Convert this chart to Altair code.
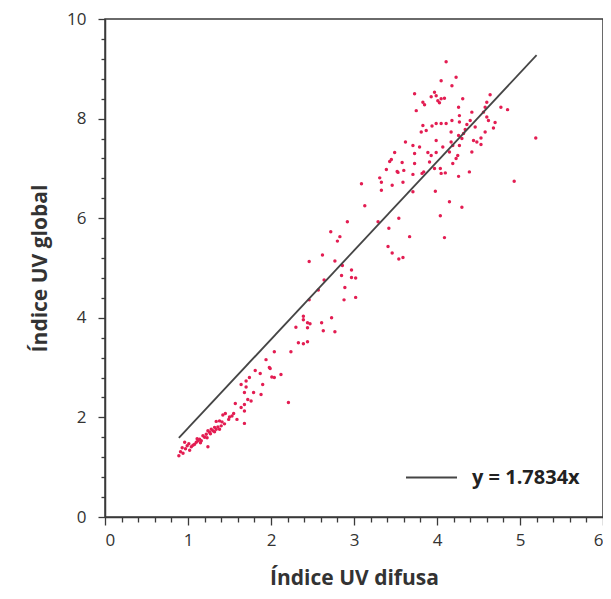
import altair as alt
import pandas as pd

# Scatter data: (Índice UV difusa, Índice UV global)
pts_x = [
    0.89, 0.94, 0.93, 0.96, 0.99, 1.02, 1.04, 1.08, 1.10, 1.12, 1.14, 1.18, 1.16, 1.22, 1.24, 1.26,
    1.28, 1.30, 1.32, 1.34, 1.36, 1.38, 1.34, 1.38, 1.24, 1.42, 1.45, 1.49, 1.53, 1.55, 1.57, 1.59,
    1.68, 1.68, 1.64, 1.68, 1.72, 1.64, 1.70, 1.68, 1.70, 1.74, 1.79, 1.81, 1.87, 1.90, 1.88, 1.99,
    2.01, 1.76, 0.97, 1.06, 1.11, 1.20, 1.27, 1.32, 1.40, 1.44, 1.01, 0.91, 1.15, 1.23, 1.41, 1.50,
    2.04, 2.24, 1.94, 1.98, 2.12, 2.04, 2.21,
    3.31, 3.33, 3.46, 3.33, 3.09, 3.53, 3.59, 3.13, 2.92, 3.29, 3.54, 3.42, 2.72, 2.83, 2.80, 3.41,
    3.46, 3.54, 3.59, 2.46, 2.62, 2.77, 2.86, 2.97, 2.85, 2.97, 3.02, 2.64, 2.89, 2.57, 2.46, 2.88,
    3.02, 2.39, 2.39, 2.44, 2.47, 2.44, 2.30, 2.61, 2.73, 2.63, 2.77, 2.33, 2.39, 2.44,
    3.67, 3.71, 3.98, 4.04, 4.09, 3.39, 3.43, 3.45, 3.49, 3.52, 3.58, 3.60, 3.62, 3.71, 3.73, 3.73,
    3.71, 3.79, 3.82, 3.84, 3.89, 3.93, 3.99, 3.99, 3.91, 3.97, 4.04, 4.05, 4.07, 3.83, 3.81, 3.87,
    3.94, 3.99, 4.05,
    4.11, 4.05, 4.23, 4.18, 3.73, 3.93, 3.97, 3.99, 4.01, 4.05, 4.09, 4.03, 3.83, 3.85, 3.75, 4.31,
    4.26, 4.64, 4.60, 4.58, 4.56, 4.77, 4.85, 4.60, 4.62, 4.70, 4.68, 4.58, 4.27, 4.27, 4.18, 4.42,
    4.40, 4.36, 4.34, 4.46, 4.44, 4.48, 4.53, 4.53, 4.17, 4.26, 4.30, 4.32, 4.11, 4.17, 4.19, 4.27,
    4.42, 4.25, 4.23, 4.19, 4.15, 4.10, 4.26, 4.39, 4.15, 4.30, 4.93, 5.19,
]
pts_y = [
    1.23, 1.28, 1.39, 1.50, 1.43, 1.34, 1.41, 1.46, 1.50, 1.53, 1.56, 1.63, 1.53, 1.66, 1.73, 1.70,
    1.76, 1.73, 1.80, 1.76, 1.81, 1.76, 1.92, 1.93, 1.41, 2.05, 2.08, 1.96, 2.03, 2.08, 2.28, 1.96,
    2.13, 1.88, 2.20, 2.26, 2.36, 2.66, 2.73, 2.50, 2.61, 2.80, 2.50, 2.94, 2.88, 2.66, 2.46, 2.98,
    2.81, 2.33, 1.37, 1.44, 1.57, 1.60, 1.67, 1.71, 1.83, 1.87, 1.47, 1.31, 1.49, 1.59, 1.91, 2.01,
    3.32, 3.32, 3.16, 3.00, 2.86, 2.80, 2.30,
    6.81, 6.72, 6.66, 6.56, 6.69, 6.92, 6.72, 6.25, 5.93, 5.93, 6.00, 5.80, 5.73, 5.63, 5.54, 5.43,
    5.30, 5.18, 5.21, 5.13, 5.26, 5.14, 5.05, 4.96, 4.85, 4.81, 4.80, 4.76, 4.61, 4.56, 4.36, 4.36,
    4.41, 4.03, 3.96, 3.90, 3.88, 3.80, 3.81, 3.90, 4.00, 3.74, 3.72, 3.50, 3.48, 3.52,
    5.63, 6.53, 6.54, 6.05, 5.61, 6.98, 7.14, 7.18, 7.32, 6.94, 7.12, 6.96, 7.53, 7.46, 7.30, 7.10,
    6.88, 7.43, 6.90, 6.93, 7.32, 7.26, 7.32, 7.56, 7.13, 7.00, 7.00, 6.90, 7.43, 7.86, 7.73, 7.76,
    7.85, 7.90, 7.90,
    9.14, 8.76, 8.83, 8.66, 8.50, 8.44, 8.53, 8.46, 8.36, 8.40, 8.41, 8.32, 8.33, 8.28, 8.16, 8.40,
    8.23, 8.48, 8.33, 8.23, 8.13, 8.23, 8.18, 8.03, 7.96, 7.92, 7.81, 7.73, 8.06, 7.93, 7.96, 8.13,
    7.96, 7.88, 7.78, 7.83, 7.56, 7.53, 7.48, 7.61, 7.73, 7.66, 7.60, 7.70, 7.90, 7.53, 7.46, 7.46,
    7.33, 7.26, 7.20, 7.10, 7.33, 6.91, 6.84, 6.93, 6.33, 6.22, 6.74, 7.61,
]

# Trend line y = 1.7834x
slope = 1.7834
line_x = [0.89, 5.2]
series_label = "y = 1.7834x"

x_major = [0, 1, 2, 3, 4, 5, 6]
y_major = [0, 2, 4, 6, 8, 10]
x_minor = [round(i * 0.2, 1) for i in range(31) if i % 5 != 0]
y_minor = [round(i * 0.4, 1) for i in range(26) if i % 5 != 0]

pts = pd.DataFrame({"x": pts_x, "y": pts_y})
line = pd.DataFrame({"x": line_x, "y": [slope * v for v in line_x], "s": [series_label] * 2})

FONT = "Open Sans"
AX = "#3a3a3a"

xscale = alt.Scale(domain=[0, 6], nice=False, zero=False)
yscale = alt.Scale(domain=[0, 10], nice=False, zero=False)

x_axis = alt.Axis(
    title="Índice UV difusa", orient="bottom", values=x_major, format="d",
    tickSize=8, grid=False, labelPadding=7, titlePadding=19, labelOverlap=False,
)
y_axis = alt.Axis(
    title="Índice UV global", orient="left", values=y_major, format="d",
    tickSize=7, grid=False, labelPadding=12, titlePadding=16, labelOverlap=False,
)
x_axis_minor = alt.Axis(
    title=None, orient="bottom", values=x_minor, labels=False, domain=False,
    tickSize=5, grid=False,
)
y_axis_minor = alt.Axis(
    title=None, orient="left", values=y_minor, labels=False, domain=False,
    tickSize=4, grid=False,
)

scatter = alt.Chart(pts).mark_circle(size=12, color="#e31d52", opacity=1).encode(
    x=alt.X("x:Q", scale=xscale, axis=x_axis),
    y=alt.Y("y:Q", scale=yscale, axis=y_axis),
)

trend = alt.Chart(line).mark_line(strokeWidth=1.8).encode(
    x=alt.X("x:Q", scale=xscale, axis=x_axis_minor),
    y=alt.Y("y:Q", scale=yscale, axis=y_axis_minor),
    color=alt.Color(
        "s:N",
        scale=alt.Scale(domain=[series_label], range=["#454545"]),
        legend=alt.Legend(
            title=None,
            orient="none",
            legendX=300,
            legendY=432,
            symbolType="stroke",
            symbolSize=2601,
            symbolStrokeWidth=1.8,
            labelFont=FONT,
            labelFontSize=20,
            labelFontWeight="bold",
            labelColor="#222222",
            labelOffset=14,
        ),
    ),
)

chart = (
    alt.layer(scatter, trend)
    .resolve_axis(x="independent", y="independent")
    .properties(
        width=498,
        height=498,
        autosize=alt.AutoSizeParams(type="none"),
        padding={"left": 97, "top": 11, "right": 0, "bottom": 74},
        background="white",
    )
    .configure_view(stroke=AX, strokeWidth=1.5)
    .configure_axis(
        domainColor=AX,
        domainWidth=1.5,
        tickColor=AX,
        tickWidth=1.3,
        labelFont=FONT,
        labelFontSize=17,
        labelColor="#333333",
        titleFont=FONT,
        titleFontSize=21,
        titleFontWeight="bold",
        titleColor="#333333",
    )
)

chart.save("out.html", embed_options={"renderer": "svg", "actions": False})
